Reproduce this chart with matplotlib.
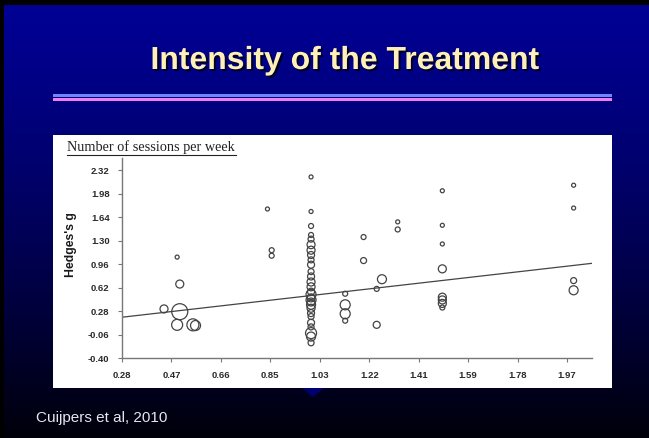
import numpy as np
import matplotlib.pyplot as plt
import matplotlib.patheffects as pe
from matplotlib.patches import Rectangle, Polygon
from matplotlib.lines import Line2D

# ==========================================
# DATA
# ==========================================
sessions = [0.49, 0.50, 0.44, 0.50, 0.49, 0.55, 0.56,
            0.834, 0.85, 0.85,
            1.0, 1.0, 1.0, 1.0, 1.0, 1.0, 1.0, 1.0, 1.0, 1.0,
            1.0, 1.0, 1.0, 1.0, 1.0, 1.0, 1.0, 1.0, 1.0, 1.0,
            1.0, 1.0, 1.0, 1.0, 1.0, 1.0, 1.0, 1.0,
            1.13, 1.13, 1.13, 1.13,
            1.20, 1.20, 1.25, 1.25, 1.27, 1.33, 1.33,
            1.5, 1.5, 1.5, 1.5, 1.5, 1.5, 1.5, 1.5,
            2.0, 2.0, 2.0, 2.0]
hedges_g = [1.06, 0.67, 0.31, 0.27, 0.08, 0.08, 0.07,
            1.756, 1.16, 1.08,
            2.22, 1.72, 1.51, 1.38, 1.32, 1.24, 1.16, 1.09, 1.02, 0.95,
            0.85, 0.78, 0.70, 0.63, 0.56, 0.52, 0.47, 0.44, 0.41, 0.37,
            0.32, 0.25, 0.20, 0.11, 0.05, -0.04, -0.09, -0.18,
            0.53, 0.37, 0.24, 0.14,
            1.35, 1.01, 0.60, 0.08, 0.74, 1.57, 1.46,
            2.02, 1.52, 1.25, 0.89, 0.48, 0.44, 0.39, 0.33,
            2.10, 1.77, 0.72, 0.58]
weight = [2.0, 4.0, 4.0, 8.0, 5.5, 6.0, 5.0,
          2.0, 2.5, 2.5,
          2.0, 2.0, 2.5, 2.5, 3.0, 4.0, 4.0, 3.5, 3.0, 3.5,
          3.0, 3.5, 4.0, 4.0, 3.5, 5.0, 4.0, 5.0, 4.0, 4.5,
          4.0, 3.5, 3.0, 3.5, 3.0, 5.5, 4.5, 3.0,
          2.5, 5.0, 5.0, 2.5,
          2.5, 3.0, 2.5, 3.5, 4.5, 2.0, 2.5,
          2.0, 2.0, 2.0, 4.0, 4.0, 4.0, 4.0, 2.5,
          2.0, 2.0, 3.0, 4.5]

fit_x = [0.28, 2.07]
fit_y = [0.19, 0.97]

x_ticks = [0.28, 0.468, 0.657, 0.845, 1.033, 1.222, 1.41, 1.598, 1.787, 1.975]
x_labels = ['0.28', '0.47', '0.66', '0.85', '1.03', '1.22', '1.41', '1.59', '1.78', '1.97']
y_ticks = [-0.40, -0.06, 0.28, 0.62, 0.96, 1.30, 1.64, 1.98, 2.32]
y_labels = ['-0.40', '-0.06', '0.28', '0.62', '0.96', '1.30', '1.64', '1.98', '2.32']

W, H = 649, 438

def fx(px):
    return px / W

def fy(py):
    return 1 - py / H

fig = plt.figure(figsize=(6.49, 4.38), dpi=100)

# ==========================================
# SLIDE BACKGROUND
# ==========================================
bg = fig.add_axes([0, 0, 1, 1])
t = np.linspace(0, 1, 256)[:, None]
top = np.array([0.0, 0.0, 0.58])
bot = np.array([0.0, 0.0, 0.04])
mix = np.clip(t ** 1.3, 0, 1)
grad = top[None, None, :] * (1 - mix[..., None]) + bot[None, None, :] * mix[..., None]
grad = np.repeat(grad, 2, axis=1)
bg.imshow(grad, extent=[0, 1, 0, 1], aspect='auto', origin='upper')
bg.set_xlim(0, 1)
bg.set_ylim(0, 1)
bg.axis('off')

# black frame bits at top/left
bg.add_patch(Rectangle((0, fy(5)), 1, 5 / H, color='black', lw=0))
bg.add_patch(Rectangle((0, 0), fx(4), 1, color='black', lw=0))

# title with drop shadow
bg.text(fx(345), fy(61), 'Intensity of the Treatment', ha='center', va='center',
        fontsize=23, fontweight='bold', family='Liberation Sans', color='#fff0b8',
        path_effects=[pe.withSimplePatchShadow(offset=(1.5, -1.5), shadow_rgbFace='#000018', alpha=0.9)])

# double rule under the title
bg.add_patch(Rectangle((fx(53), fy(97)), fx(612) - fx(53), 3 / H, color='#6e86ff', lw=0))
bg.add_patch(Rectangle((fx(53), fy(101)), fx(612) - fx(53), 3 / H, color='#f07cf0', lw=0))

# white panel with the figure
bg.add_patch(Rectangle((fx(53), fy(388)), fx(612) - fx(53), (388 - 135) / H, color='white', lw=0))
bg.add_patch(Polygon([(fx(302), fy(388)), (fx(324), fy(388)), (fx(313), fy(397))],
                     closed=True, color='#000070', lw=0))

bg.text(fx(36), fy(418), 'Cuijpers et al, 2010', ha='left', va='center',
        fontsize=11, family='Liberation Sans', color='#e6e6ee')

# chart heading (underlined, serif)
bg.text(fx(67), fy(147), 'Number of sessions per week', ha='left', va='center',
        fontsize=10.3, family='Liberation Serif', color='#222222')
bg.add_line(Line2D([fx(67), fx(236)], [fy(155), fy(155)], color='#222222', lw=0.8))

# ==========================================
# SCATTER PLOT
# ==========================================
ax = fig.add_axes([fx(122), fy(358), fx(592) - fx(122), fy(158) - fy(358)])
ax.set_facecolor('white')
sizes = [(1.44 * w) ** 2 for w in weight]
ax.scatter(sessions, hedges_g, s=sizes, facecolors='none', edgecolors='#444444', linewidths=0.9)
ax.plot(fit_x, fit_y, color='#444444', lw=0.9)

ax.set_xlim(0.28, 2.07)
ax.set_ylim(-0.40, 2.494)
ax.set_xticks(x_ticks)
ax.set_xticklabels(x_labels)
ax.set_yticks(y_ticks)
ax.set_yticklabels(y_labels)
for s in ['top', 'right']:
    ax.spines[s].set_visible(False)
for s in ['left', 'bottom']:
    ax.spines[s].set_color('#777777')
    ax.spines[s].set_linewidth(1.0)
ax.tick_params(axis='both', colors='#777777', length=3, width=0.8, labelsize=6.8,
               labelcolor='#2a2a2a', pad=6)
for lab in ax.get_xticklabels() + ax.get_yticklabels():
    lab.set_fontweight('bold')
    lab.set_family('Liberation Sans')

ax.set_ylabel("Hedges's g", fontsize=8.8, fontweight='bold', family='Liberation Sans',
              color='#1a1a1a')
ax.yaxis.set_label_coords(-0.095, 0.565)

fig.savefig('out.png', dpi=100)
